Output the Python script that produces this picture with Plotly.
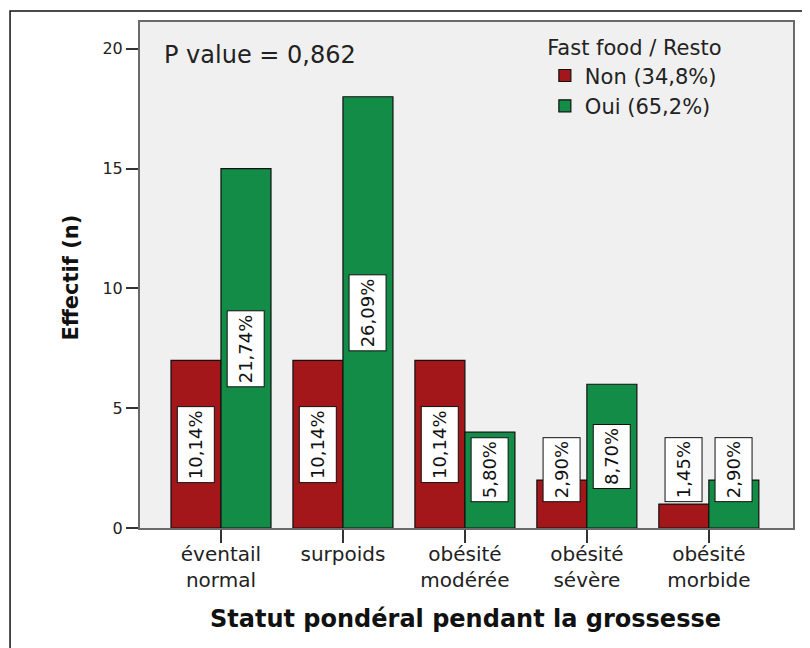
import plotly.graph_objects as go

# ---- data ----
categories = ["éventail<br>normal", "surpoids", "obésité<br>modérée", "obésité<br>sévère", "obésité<br>morbide"]
non_values = [7, 7, 7, 2, 1]
oui_values = [15, 18, 4, 6, 2]
series_names = ["Non (34,8%)", "Oui (65,2%)"]
y_ticks = [0, 5, 10, 15, 20]
legend_title = "Fast food / Resto"
p_value_text = "P value = 0,862"
x_title = "Statut pondéral pendant la grossesse"
y_title = "Effectif (n)"

RED = "#a3171b"
GREEN = "#128c47"
FONT = "DejaVu Sans"
TXT = "#222222"

total = sum(non_values) + sum(oui_values)
bargap = 0.18
half = (1 - bargap) / 4  # centre offset of each bar inside a group

fig = go.Figure()
for name, vals, col in [(series_names[0], non_values, RED), (series_names[1], oui_values, GREEN)]:
    fig.add_trace(go.Bar(
        x=categories, y=vals, name=name,
        marker=dict(color=col, line=dict(color="#111111", width=1.2)),
    ))

annotations = []
for k, vals in enumerate([non_values, oui_values]):
    off = -half if k == 0 else half
    for i, v in enumerate(vals):
        pct = f"{v / total * 100:.2f}".replace(".", ",") + "%"
        annotations.append(dict(
            x=i + off, y=max(v / 2, 2.45), xref="x", yref="y",
            text=pct, showarrow=False, textangle=-90, height=30,
            font=dict(family=FONT, size=18, color="#111111"),
            bgcolor="white", bordercolor="#111111", borderwidth=1, borderpad=3,
        ))

annotations.append(dict(
    x=0.034, y=0.935, xref="paper", yref="paper", xanchor="left", yanchor="middle",
    text=p_value_text, showarrow=False, font=dict(family=FONT, size=24, color=TXT)))
annotations.append(dict(
    x=0.499, y=-0.18, xref="paper", yref="paper", xanchor="center", yanchor="middle",
    text=f"<b>{x_title}</b>", showarrow=False, font=dict(family=FONT, size=24, color="#111111")))
annotations.append(dict(
    x=-0.1057, y=0.495, xref="paper", yref="paper", xanchor="center", yanchor="middle",
    text=f"<b>{y_title}</b>", textangle=-90, showarrow=False,
    font=dict(family=FONT, size=21, color="#111111")))

fig.update_layout(
    width=810, height=648,
    margin=dict(l=132, r=25, t=12, b=128),
    paper_bgcolor="white", plot_bgcolor="#f0f0f0",
    barmode="group", bargap=bargap, bargroupgap=0,
    font=dict(family=FONT, color=TXT),
    showlegend=True,
    legend=dict(
        x=0.62, y=0.988, xanchor="left", yanchor="top",
        bgcolor="rgba(0,0,0,0)",
        font=dict(family=FONT, size=21, color=TXT),
        title=dict(text=legend_title, side="top center", font=dict(family=FONT, size=21, color=TXT)),
        traceorder="normal",
    ),
    annotations=annotations,
    shapes=[dict(type="rect", xref="paper", yref="paper",
                 x0=-0.199, x1=1.1, y0=-0.3, y1=1.0217,
                 line=dict(color="#111111", width=1.5), layer="below")],
)
fig.update_xaxes(
    type="category", range=[-0.664, 4.69],
    showgrid=False, zeroline=False,
    showline=True, linecolor="#6a6a6a", linewidth=2, mirror=True,
    ticks="outside", ticklen=13, tickwidth=1.5, tickcolor="#333333",
    ticklabelstandoff=-6,
    tickfont=dict(family=FONT, size=20, color=TXT),
)
fig.update_yaxes(
    range=[0, 21.12], tickvals=y_ticks,
    showgrid=False, zeroline=False,
    showline=True, linecolor="#6a6a6a", linewidth=2, mirror=True,
    ticks="outside", ticklen=12, tickwidth=1.5, tickcolor="#333333",
    tickfont=dict(family=FONT, size=16, color=TXT),
)

fig.write_html("out.html")
